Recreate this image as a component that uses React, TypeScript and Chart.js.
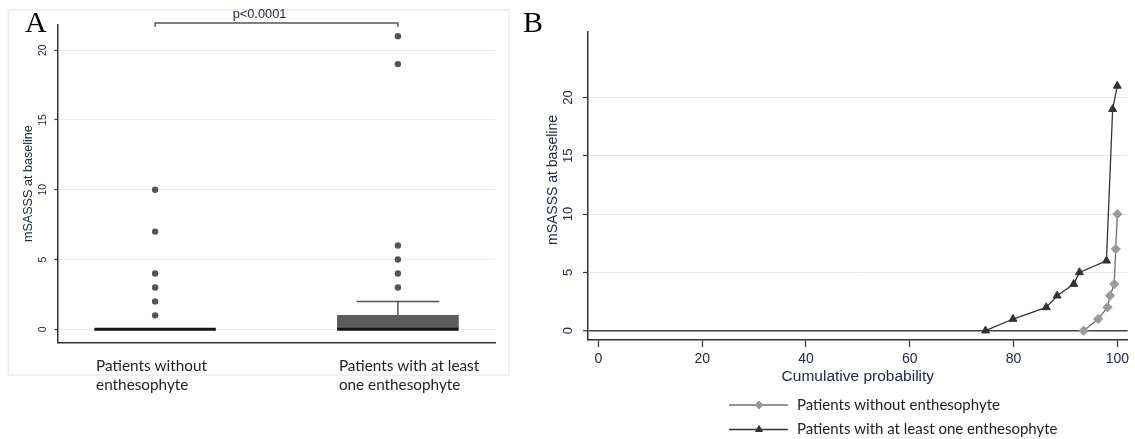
import React, { useEffect, useRef } from "react";
import { Chart, registerables } from "chart.js";
import { drawPoint } from "chart.js/helpers";

Chart.register(...registerables);

// ---------- fonts / colours ----------
const STATA_FONT = '"Liberation Sans", Arial, sans-serif';
const WORD_FONT = 'Lato, "Noto Sans", sans-serif';
const SERIF_FONT = '"Liberation Serif", "DejaVu Serif", serif';
const STATA_TEXT = "#232b45";
const WORD_TEXT = "#1f1f1f";

// ---------- Panel A data (box plot) ----------
const groupLabels = [
  ["Patients without", "enthesophyte"],
  ["Patients with at least", "one enthesophyte"],
];
const groupPositions = [1, 2];
const boxQ1 = [0, 0];
const boxQ3 = [0, 1];
const boxMedian = [0, 0];
const whiskerUpper = [0, 2];
const outliersWithout = [1, 2, 3, 4, 7, 10];
const outliersWith = [3, 4, 5, 6, 19, 21];
const yTicksA = [0, 5, 10, 15, 20];
const pValueLabel = "p<0.0001";
const pValueAnchor = 1.43;
const bracketLevel = 21.95;
const bracketDrop = 21.68;

// ---------- Panel B data (cumulative probability) ----------
const seriesNames = [
  "Patients without enthesophyte",
  "Patients with at least one enthesophyte",
];
const cumProbWithout = [93.5, 96.3, 98.1, 98.6, 99.4, 99.7, 100];
const scoreWithout = [0, 1, 2, 3, 4, 7, 10];
const cumProbWith = [74.6, 79.9, 86.3, 88.4, 91.6, 92.7, 97.9, 99.1, 100];
const scoreWith = [0, 1, 2, 3, 4, 5, 6, 19, 21];
const xTicksB = [0, 20, 40, 60, 80, 100];
const yTicksB = [0, 5, 10, 15, 20];

// ---------- style constants ----------
const BOX_HALF = 0.25;
const CAP_HALF = 0.17;

function rotText(
  ctx: CanvasRenderingContext2D,
  text: string,
  x: number,
  y: number,
  font: string,
  color: string
) {
  ctx.save();
  ctx.translate(x, y);
  ctx.rotate(-Math.PI / 2);
  ctx.font = font;
  ctx.fillStyle = color;
  ctx.textAlign = "center";
  ctx.textBaseline = "middle";
  ctx.fillText(text, 0, 0);
  ctx.restore();
}

function noPad(s: any) {
  s.paddingLeft = 0;
  s.paddingRight = 0;
  s.paddingTop = 0;
  s.paddingBottom = 0;
}

function buildConfigA(): any {
  const datasets: any[] = [];
  datasets.push({
    type: "bar",
    label: "IQR",
    data: groupPositions.map((x, i) => ({ x, y: [boxQ1[i], boxQ3[i]] })),
    backgroundColor: "#5b5b5b",
    borderWidth: 0,
    barThickness: 121,
    order: 3,
  });
  groupPositions.forEach((x, i) => {
    if (whiskerUpper[i] > boxQ3[i]) {
      datasets.push({
        type: "line",
        data: [
          { x, y: boxQ3[i] },
          { x, y: whiskerUpper[i] },
        ],
        borderColor: "#555",
        borderWidth: 1.5,
        pointRadius: 0,
        order: 2,
      });
      datasets.push({
        type: "line",
        data: [
          { x: x - CAP_HALF, y: whiskerUpper[i] },
          { x: x + CAP_HALF, y: whiskerUpper[i] },
        ],
        borderColor: "#555",
        borderWidth: 1.5,
        pointRadius: 0,
        order: 2,
      });
    }
    datasets.push({
      type: "line",
      data: [
        { x: x - BOX_HALF, y: boxMedian[i] },
        { x: x + BOX_HALF, y: boxMedian[i] },
      ],
      borderColor: "#151515",
      borderWidth: 3,
      pointRadius: 0,
      order: 1,
    });
  });
  [outliersWithout, outliersWith].forEach((vals, i) => {
    datasets.push({
      type: "scatter",
      data: vals.map((v) => ({ x: groupPositions[i], y: v })),
      pointRadius: 3.2,
      pointBackgroundColor: "#555",
      pointBorderWidth: 0,
      order: 0,
    });
  });
  datasets.push({
    type: "line",
    data: [
      { x: groupPositions[0], y: bracketDrop },
      { x: groupPositions[0], y: bracketLevel },
      { x: groupPositions[1], y: bracketLevel },
      { x: groupPositions[1], y: bracketDrop },
    ],
    borderColor: "#555",
    borderWidth: 1.5,
    pointRadius: 0,
    clip: false,
    order: 0,
  });

  const plugin = {
    id: "panelA",
    beforeDraw(chart: any) {
      const ctx = chart.ctx;
      ctx.save();
      ctx.strokeStyle = "#ececec";
      ctx.lineWidth = 1.5;
      ctx.strokeRect(8.5, 10, 500.5, 365);
      ctx.restore();
    },
    afterDraw(chart: any) {
      const ctx = chart.ctx;
      const { x, y } = chart.scales;
      y.ticks.forEach((t: any) =>
        rotText(
          ctx,
          String(t.value),
          chart.chartArea.left - 14.7,
          y.getPixelForValue(t.value),
          `10.5px ${STATA_FONT}`,
          STATA_TEXT
        )
      );
      ctx.save();
      ctx.font = `30px ${SERIF_FONT}`;
      ctx.fillStyle = "#000";
      ctx.textAlign = "left";
      ctx.textBaseline = "alphabetic";
      ctx.fillText("A", 25, 31.7);
      ctx.font = `12.8px ${STATA_FONT}`;
      ctx.fillStyle = STATA_TEXT;
      ctx.textAlign = "center";
      ctx.textBaseline = "middle";
      ctx.fillText(
        pValueLabel,
        x.getPixelForValue(pValueAnchor),
        y.getPixelForValue(bracketLevel) - 8.2
      );
      ctx.restore();
    },
  };

  return {
    type: "bar",
    data: { datasets },
    plugins: [plugin],
    options: {
      animation: false,
      responsive: true,
      maintainAspectRatio: false,
      events: [],
      layout: { padding: { left: 0, top: 25, right: 25, bottom: 0 } },
      plugins: { legend: { display: false }, tooltip: { enabled: false } },
      scales: {
        x: {
          type: "linear",
          min: 0.6,
          max: 2.4,
          offset: false,
          afterFit: (s: any) => {
            s.height = 96.7;
            noPad(s);
          },
          afterBuildTicks: (s: any) => {
            s.ticks = groupPositions.map((v) => ({ value: v }));
          },
          grid: { display: false, offset: false },
          border: { display: true, color: "#333", width: 1.5 },
          ticks: {
            autoSkip: false,
            maxRotation: 0,
            minRotation: 0,
            align: "start",
            labelOffset: -59,
            padding: 6,
            color: WORD_TEXT,
            font: { family: WORD_FONT, size: 15.3, lineHeight: 1.25 },
            callback: (_v: any, i: number) => groupLabels[i],
          },
        },
        y: {
          type: "linear",
          min: -0.93,
          max: 21.8,
          afterFit: (s: any) => {
            s.width = 58;
            noPad(s);
          },
          afterBuildTicks: (s: any) => {
            s.ticks = yTicksA.map((v) => ({ value: v }));
          },
          grid: {
            color: "#ebebeb",
            lineWidth: 1,
            drawTicks: true,
            tickLength: 3.5,
            tickColor: "#333",
            tickWidth: 1.2,
          },
          border: { display: true, color: "#333", width: 1.5 },
          ticks: { display: false },
          title: {
            display: true,
            text: "mSASSS at baseline",
            color: STATA_TEXT,
            font: { family: STATA_FONT, size: 12.6, lineHeight: 1.2 },
            padding: { top: 20.7, bottom: 0 },
          },
        },
      },
    },
  };
}

function buildConfigB(): any {
  const colorsLine = ["#707070", "#333333"];
  const colorsPoint = ["#9a9a9a", "#333333"];
  const styles = ["rectRot", "triangle"];
  const radii = [4.6, 4.6];

  const datasets = [
    {
      type: "line",
      label: seriesNames[0],
      data: cumProbWithout.map((x, i) => ({ x, y: scoreWithout[i] })),
      borderColor: colorsLine[0],
      borderWidth: 1.3,
      pointStyle: styles[0],
      pointRadius: radii[0],
      pointBackgroundColor: colorsPoint[0],
      pointBorderColor: colorsPoint[0],
      pointBorderWidth: 1,
      tension: 0,
    },
    {
      type: "line",
      label: seriesNames[1],
      data: cumProbWith.map((x, i) => ({ x, y: scoreWith[i] })),
      borderColor: colorsLine[1],
      borderWidth: 1.3,
      pointStyle: styles[1],
      pointRadius: radii[1],
      pointBackgroundColor: colorsPoint[1],
      pointBorderColor: colorsPoint[1],
      pointBorderWidth: 1,
      tension: 0,
    },
  ];

  const plugin = {
    id: "panelB",
    afterDraw(chart: any) {
      const ctx = chart.ctx;
      const { y } = chart.scales;
      y.ticks.forEach((t: any) =>
        rotText(
          ctx,
          String(t.value),
          chart.chartArea.left - 20,
          y.getPixelForValue(t.value),
          `13px ${STATA_FONT}`,
          STATA_TEXT
        )
      );
      rotText(ctx, "mSASSS at baseline", 33, 180, `14px ${STATA_FONT}`, STATA_TEXT);
      ctx.save();
      ctx.font = `30px ${SERIF_FONT}`;
      ctx.fillStyle = "#000";
      ctx.textAlign = "left";
      ctx.textBaseline = "alphabetic";
      ctx.fillText("B", 3, 31.7);
      // legend
      chart.data.datasets.forEach((ds: any, i: number) => {
        const rowY = 405 + 24.5 * i;
        ctx.strokeStyle = ds.borderColor;
        ctx.lineWidth = 1.3;
        ctx.beginPath();
        ctx.moveTo(209, rowY);
        ctx.lineTo(268, rowY);
        ctx.stroke();
        ctx.fillStyle = ds.pointBackgroundColor;
        ctx.strokeStyle = ds.pointBorderColor;
        ctx.lineWidth = 1;
        drawPoint(
          ctx,
          { pointStyle: ds.pointStyle, radius: ds.pointRadius - 0.6, rotation: 0, borderWidth: 1 } as any,
          239,
          rowY
        );
        ctx.fillStyle = WORD_TEXT;
        ctx.font = `15px ${WORD_FONT}`;
        ctx.textAlign = "left";
        ctx.textBaseline = "middle";
        ctx.fillText(ds.label, 277, rowY);
      });
      ctx.restore();
    },
  };

  return {
    type: "line",
    data: { datasets },
    plugins: [plugin],
    options: {
      animation: false,
      responsive: true,
      maintainAspectRatio: false,
      events: [],
      layout: { padding: { left: 0, top: 31.7, right: 7.3, bottom: 0 } },
      plugins: { legend: { display: false }, tooltip: { enabled: false } },
      scales: {
        x: {
          type: "linear",
          min: -2,
          max: 102,
          afterFit: (s: any) => {
            s.height = 99;
            noPad(s);
          },
          afterBuildTicks: (s: any) => {
            s.ticks = xTicksB.map((v) => ({ value: v }));
          },
          grid: {
            drawOnChartArea: false,
            drawTicks: true,
            tickLength: 7,
            tickColor: "#333",
            tickWidth: 1.2,
          },
          border: { display: true, color: "#333", width: 1.5 },
          ticks: {
            autoSkip: false,
            maxRotation: 0,
            padding: 4,
            color: STATA_TEXT,
            font: { family: STATA_FONT, size: 14, lineHeight: 1.2 },
          },
          title: {
            display: true,
            text: "Cumulative probability",
            color: STATA_TEXT,
            font: { family: STATA_FONT, size: 15.5, lineHeight: 1.2 },
            padding: { top: 0, bottom: 53 },
          },
        },
        y: {
          type: "linear",
          min: -0.8,
          max: 25.65,
          afterFit: (s: any) => {
            s.width = 68;
            noPad(s);
          },
          afterBuildTicks: (s: any) => {
            s.ticks = yTicksB.map((v) => ({ value: v }));
          },
          grid: {
            color: (c: any) => (c.tick && c.tick.value === 0 ? "#444" : "#e8e8e8"),
            lineWidth: (c: any) => (c.tick && c.tick.value === 0 ? 1.5 : 1),
            drawTicks: true,
            tickLength: 5,
            tickColor: "#333",
            tickWidth: 1.2,
          },
          border: { display: true, color: "#333", width: 1.5 },
          ticks: { display: false },
        },
      },
    },
  };
}

export default function App() {
  const refA = useRef<HTMLCanvasElement>(null);
  const refB = useRef<HTMLCanvasElement>(null);

  useEffect(() => {
    const a = new Chart(refA.current as HTMLCanvasElement, buildConfigA());
    const b = new Chart(refB.current as HTMLCanvasElement, buildConfigB());
    return () => {
      a.destroy();
      b.destroy();
    };
  }, []);

  return (
    <div
      style={{
        position: "absolute",
        left: 0,
        top: 0,
        width: 1135,
        height: 439,
        background: "#fff",
      }}
    >
      <div style={{ position: "absolute", left: 0, top: 0, width: 520, height: 439 }}>
        <canvas ref={refA} />
      </div>
      <div style={{ position: "absolute", left: 520, top: 0, width: 615, height: 439 }}>
        <canvas ref={refB} />
      </div>
    </div>
  );
}
